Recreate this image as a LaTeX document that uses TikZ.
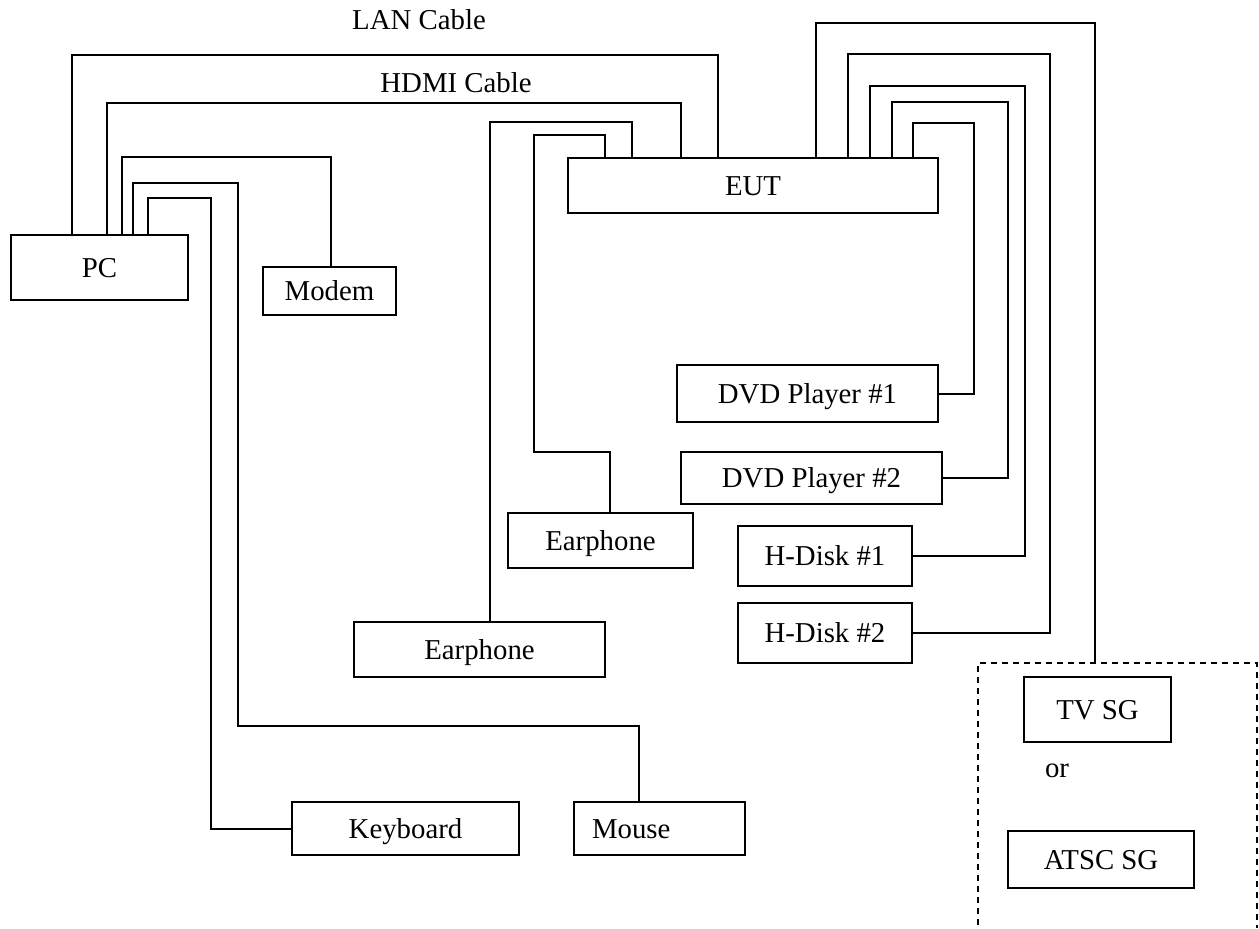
\documentclass[tikz,border=0pt]{standalone}
\usepackage{fontspec}
\setmainfont{Liberation Serif}
\usetikzlibrary{positioning}
\newlength{\px}\setlength{\px}{0.5pt}
\begin{document}
\begin{tikzpicture}[x=\px,y=-\px,line width=1pt,every node/.style={font=\fontsize{14.4}{17}\selectfont,text height=9.5pt,text depth=0pt},box/.style={draw,inner sep=0pt,align=center},cable/.style={line width=1pt}]
\useasboundingbox (0,0) rectangle (1259,928);
\node[box,minimum width=177\px,minimum height=65\px] (PC) at (99.5,267.5) {PC};
\node[box,minimum width=133\px,minimum height=48\px] (Modem) at (329.5,291) {Modem};
\node[box,minimum width=370\px,minimum height=55\px] (EUT) at (753,185.5) {EUT};
\node[box,minimum width=261\px,minimum height=57\px] (DVD1) at (807.5,393.5) {DVD Player \#1};
\node[box,minimum width=261\px,minimum height=52\px] (DVD2) at (811.5,478) {DVD Player \#2};
\node[box,minimum width=185\px,minimum height=55\px] (Ear1) at (600.5,540.5) {Earphone};
\node[box,minimum width=251\px,minimum height=55\px] (Ear2) at (479.5,649.5) {Earphone};
\node[box,minimum width=174\px,minimum height=60\px] (HD1) at (825,556) {H-Disk \#1};
\node[box,minimum width=174\px,minimum height=60\px] (HD2) at (825,633) {H-Disk \#2};
\node[box,minimum width=227\px,minimum height=53\px] (Keyboard) at (405.5,828.5) {Keyboard};
\node[box,minimum width=171\px,minimum height=53\px,text width=135\px,align=left] (Mouse) at (659.5,828.5) {Mouse};
\node[box,minimum width=147\px,minimum height=65\px] (TVSG) at (1097.5,709.5) {TV SG};
\node (or) at (1057,768) {or};
\node[box,minimum width=186\px,minimum height=57\px] (ATSC) at (1101,859.5) {ATSC SG};
\node (lan) at (419,20) {LAN Cable};
\node (hdmi) at (456,83) {HDMI Cable};
\coordinate (sgtop) at (1095,663);
\draw[dash pattern=on 6\px off 5\px] (978,925) |- (1257,663) -- (1257,928);
\draw[cable] (PC.north -| 72,0) |- (718,55) -- (EUT.north -| 718,0);
\draw[cable] (PC.north -| 107,0) |- (681,103) -- (EUT.north -| 681,0);
\draw[cable] (PC.north -| 122,0) |- (331,157) -- (Modem.north -| 331,0);
\draw[cable] (PC.north -| 133,0) |- (238,183) |- (639,726) -- (Mouse.north -| 639,0);
\draw[cable] (PC.north -| 148,0) |- (211,198) |- (Keyboard.west);
\draw[cable] (Ear1.north -| 610,0) |- (534,452) |- (605,135) -- (EUT.north -| 605,0);
\draw[cable] (Ear2.north -| 490,0) |- (632,122) -- (EUT.north -| 632,0);
\draw[cable] (EUT.north -| 816,0) |- (1095,23) -- (sgtop);
\draw[cable] (EUT.north -| 848,0) |- (1050,54) |- (HD2.east);
\draw[cable] (EUT.north -| 870,0) |- (1025,86) |- (HD1.east);
\draw[cable] (EUT.north -| 892,0) |- (1008,102) |- (DVD2.east);
\draw[cable] (EUT.north -| 913,0) |- (974,123) |- (DVD1.east);
\end{tikzpicture}
\end{document}
